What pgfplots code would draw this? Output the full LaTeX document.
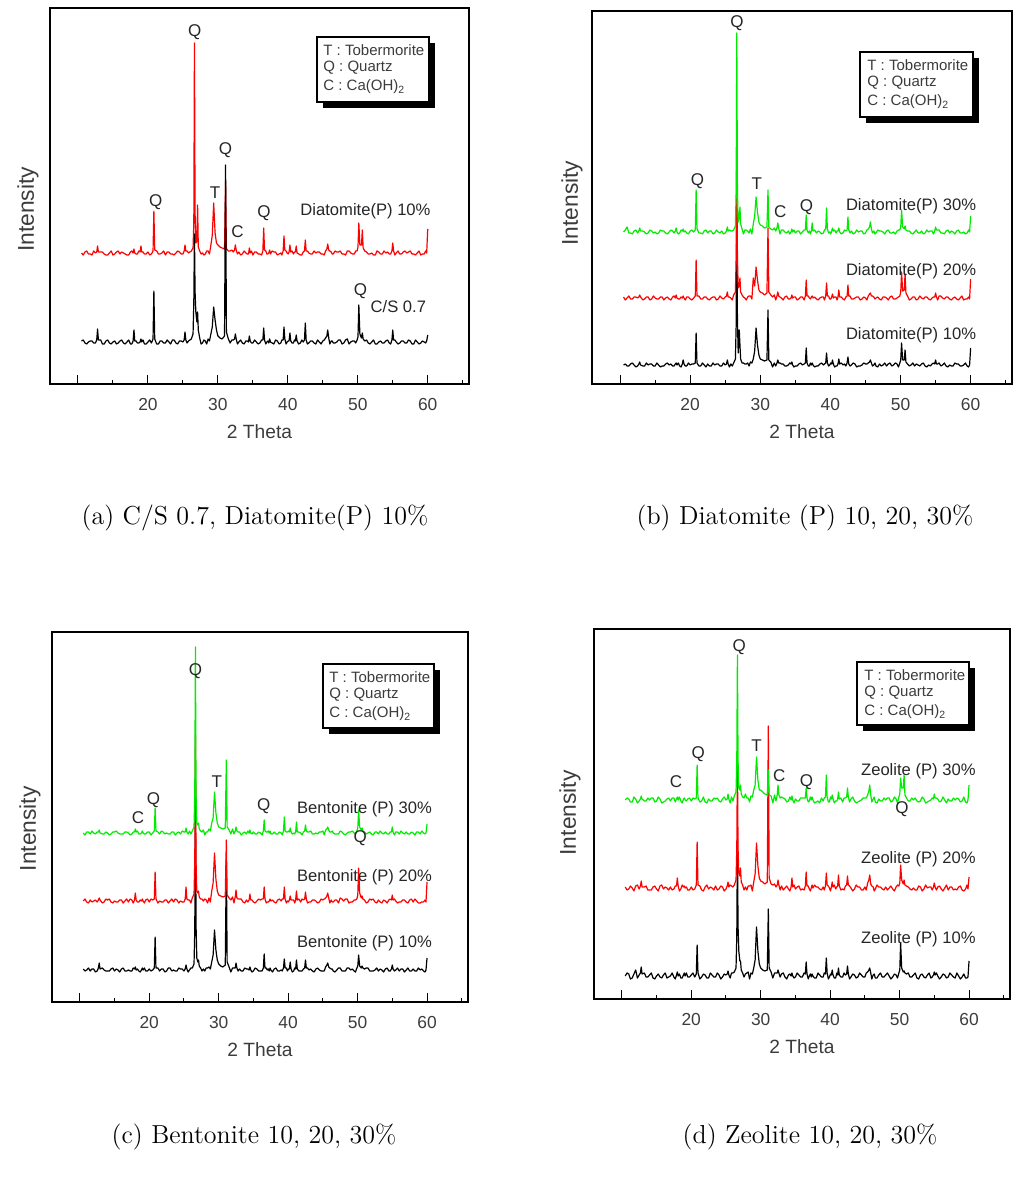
\documentclass[border=0pt]{standalone}
\usepackage{fontspec}
\usepackage{pgfplots}
\usepackage{pgfplotstable}
\pgfplotsset{compat=1.18}
\newfontfamily\arial{Liberation Sans}
\definecolor{xgreen}{RGB}{0,235,0}
\definecolor{xred}{RGB}{255,0,0}
\definecolor{axgray}{RGB}{60,60,60}

% relative intensities (px above each trace's baseline)
\pgfplotstableread{
x A1 A2 B1 B2 B3 C1 C2 C3 D1 D2 D3
10.5 1 0 0 1 0 1 0 0 0 1 0
10.75 2 -2 1 -2 2 -1 2 -2 3 -2 2
11.0 -1 1 -1 0 5 0 -1 1 2 -1 1
11.25 -2 2 -1 2 -1 2 -2 1 -3 2 -2
11.5 0 -1 1 -1 -1 -1 1 -1 -2 0 -2
11.75 1 -1 2 -1 -2 1 -1 2 2 -3 3
12.0 1 -2 0 1 1 1 0 0 6 2 1
12.25 -1 2 -2 1 2 -2 1 -1 -2 3 -3
12.5 -1 0 -1 0 -1 -1 -1 1 1 -1 -1
12.68 2 1 1 1 1 2 1 1 3 2 1
12.8 13 7 3 3 4 7 3 3 9 7 4
12.92 2 1 0 1 1 1 1 0 2 1 1
13.25 2 1 -1 -2 1 2 -2 -1 3 1 -1
13.5 -2 1 -1 -1 0 0 -1 -1 -1 2 -1
13.75 -2 -1 2 1 -2 -1 2 1 -1 -2 2
14.0 1 -2 0 1 -1 -1 1 0 1 -2 0
14.25 2 -2 1 -2 2 -1 2 -2 3 -2 2
14.5 -1 0 1 -1 1 1 -1 -1 -2 1 2
14.75 -2 2 -1 2 -1 2 -2 1 -3 2 -2
15.0 0 -2 -1 0 0 -1 0 1 0 -1 -1
15.25 1 -1 2 -1 -2 1 -1 2 2 -3 3
15.5 -2 1 0 -1 -1 0 -1 0 -1 2 1
15.75 -1 2 -2 1 2 -2 1 -1 -2 3 -3
16.0 1 -1 -1 1 1 1 1 -1 1 -1 -2
16.25 2 1 -1 -2 1 2 -2 -1 3 1 -1
16.5 -1 0 1 0 -1 -1 0 1 -2 0 1
16.75 -2 -1 2 1 -2 -1 2 1 -1 -2 2
17.0 0 -2 0 -1 0 0 -1 0 0 1 -1
17.25 2 -2 1 -2 2 -1 2 -2 3 -2 2
17.5 -2 1 -1 1 1 -1 1 -1 -1 -1 2
17.7 -2 2 -1 2 -1 2 -2 1 -3 2 -2
17.88 1 0 1 0 1 1 1 1 1 2 1
18.0 12 4 2 3 4 3 8 4 4 10 3
18.12 1 0 0 0 0 0 1 1 0 2 0
18.3 1 -1 2 -1 -2 1 -1 2 2 -3 3
18.5 -1 -1 -1 -1 -1 -1 -1 -1 -2 -1 -1
18.7 -1 2 -2 1 2 -2 1 -1 -2 3 -3
18.88 0 1 1 0 1 0 0 0 1 1 1
19.0 3 7 5 2 3 2 2 2 3 2 2
19.12 0 1 1 0 0 0 0 0 0 0 0
19.3 2 1 -1 -2 1 2 -2 -1 3 1 -1
19.5 -2 -1 -1 1 -1 -1 1 -1 -1 -2 1
19.75 -2 -1 2 1 -2 -1 2 1 -1 -2 2
20.0 0 1 0 -1 1 1 -1 1 1 1 -1
20.25 2 -2 1 -2 2 -1 2 -2 3 -2 2
20.5 -1 -1 1 0 0 0 1 0 -1 -1 1
20.73 3 2 2 2 2 2 2 2 2 3 2
20.85 51 42 32 38 42 33 29 25 31 46 35
20.97 3 3 2 2 3 2 2 2 3 3 2
21.25 -2 2 -1 2 -1 2 -2 1 -3 2 -2
21.5 -2 -1 -1 -1 -1 -1 0 -1 -1 -2 -1
21.75 1 -1 2 -1 -2 1 -1 2 2 -3 3
22.0 1 0 0 1 1 1 -1 1 1 1 -2
22.25 -1 2 -2 1 2 -2 1 -1 -2 3 -3
22.5 -1 -2 1 -1 -1 -1 1 0 -2 -1 1
22.75 2 1 -1 -2 1 2 -2 -1 3 1 -1
23.0 0 1 -1 0 1 2 0 -1 1 0 -1
23.25 -2 -1 2 1 -2 -1 2 1 -1 -2 2
23.5 2 -1 0 1 -1 0 -1 1 -1 2 1
23.75 2 -2 1 -2 2 -1 2 -2 3 -2 2
24.0 -1 0 1 -1 0 -1 1 0 1 -1 -1
24.25 -2 2 -1 2 -1 2 -2 1 -3 2 -2
24.5 1 1 -1 0 1 1 0 -1 -1 1 1
24.75 1 -1 2 -1 -2 1 -1 2 2 -3 3
25.0 0 -1 0 1 -1 -1 -1 1 1 -1 0
25.18 2 2 1 2 1 1 2 1 2 2 1
25.3 10 8 5 6 5 5 14 5 5 6 6
25.42 2 2 1 1 1 1 2 1 1 1 1
25.6 -1 2 -2 1 2 -2 1 -1 -2 3 -3
25.8 1 0 1 0 1 0 1 2 3 2 3
26.0 2 1 -1 -2 1 2 -2 -1 3 1 -1
26.2 3 2 2 3 2 2 3 2 4 3 4
26.45 8 5 6 6 6 6 7 6 8 8 8
26.56 40 30 40 40 40 40 40 40 40 40 40
26.65 108 210 160 168 199 183 166 186 137 128 145
26.74 50 40 45 40 40 45 40 40 50 40 40
26.85 30 10 12 10 10 12 10 10 25 15 12
27.0 20 12 35 12 14 8 8 8 15 12 10
27.1 30 48 20 20 25 10 10 10 15 20 15
27.2 12 6 6 6 8 4 4 4 6 6 6
27.4 4 2 2 3 3 2 2 2 3 3 3
27.6 -2 -1 2 1 -2 -1 2 1 -1 -2 2
27.8 -1 0 1 0 2 1 0 3 2 1 6
28.0 2 -2 1 -2 2 -1 2 -2 3 -2 2
28.2 1 -1 2 1 1 2 1 1 4 2 2
28.4 -2 2 -1 2 -1 2 -2 1 -3 2 -2
28.6 3 2 3 2 3 3 3 4 3 3 4
28.8 1 -1 2 -1 -2 1 -1 2 2 -3 3
29.0 8 8 6 20 8 8 10 10 8 6 10
29.2 15 18 14 12 16 15 18 15 16 14 15
29.4 35 50 37 31 35 40 48 41 49 45 43
29.6 22 20 20 18 20 20 22 20 25 22 20
29.8 12 10 10 8 10 10 10 10 12 10 10
30.0 6 8 6 6 7 6 6 6 8 7 10
30.3 4 6 5 5 6 4 5 5 6 6 8
30.6 3 5 4 3 4 3 4 4 5 4 6
30.95 6 4 5 5 5 5 5 5 6 6 5
31.1 177 72 55 70 42 110 61 73 67 162 30
31.22 10 4 5 6 5 8 6 6 8 10 5
31.5 3 2 3 3 3 3 3 3 4 4 4
31.75 -1 2 -2 1 2 -2 1 -1 -2 3 -3
32.0 2 3 2 3 4 2 4 4 3 4 5
32.2 2 1 -1 -2 1 2 -2 -1 3 1 -1
32.38 3 3 2 2 4 2 4 2 3 3 5
32.5 8 8 5 6 9 7 11 6 6 8 15
32.62 3 3 2 2 4 2 3 2 3 3 5
32.8 -2 -1 2 1 -2 -1 2 1 -1 -2 2
33.0 0 1 1 0 2 1 2 1 2 2 3
33.25 2 -2 1 -2 2 -1 2 -2 3 -2 2
33.5 -1 -1 -1 1 0 -1 -1 0 -1 0 1
33.75 -2 2 -1 2 -1 2 -2 1 -3 2 -2
34.0 1 0 0 -1 1 1 1 -1 1 -1 -1
34.2 1 -1 2 -1 -2 1 -1 2 2 -3 3
34.38 0 -1 1 0 0 0 1 0 0 1 0
34.5 6 5 3 3 3 3 7 3 3 10 4
34.62 1 0 0 0 0 0 1 0 0 1 0
34.8 -1 2 -2 1 2 -2 1 -1 -2 3 -3
35.0 -1 -2 -1 1 -1 -1 -1 1 -1 -1 1
35.25 2 1 -1 -2 1 2 -2 -1 3 1 -1
35.5 0 1 1 -1 1 1 0 -1 1 2 -1
35.75 -2 -1 2 1 -2 -1 2 1 -1 -2 2
36.0 -1 -1 0 1 0 -1 1 0 -1 -1 2
36.25 2 -2 1 -2 2 -1 2 -2 3 -2 2
36.43 2 2 2 2 2 2 2 2 2 2 2
36.55 14 25 17 18 17 16 14 13 14 16 12
36.67 2 3 2 2 2 2 2 2 2 2 2
36.85 -2 2 -1 2 -1 2 -2 1 -3 2 -2
37.0 0 -1 -1 0 1 0 -1 1 0 -1 -1
37.15 1 -1 2 -1 -2 1 -1 2 2 -3 3
37.28 -1 0 0 1 1 -1 0 0 -1 0 0
37.4 3 3 2 2 9 2 2 2 2 3 3
37.52 0 -1 0 0 1 0 0 -1 0 0 0
37.75 -1 2 -2 1 2 -2 1 -1 -2 3 -3
38.0 -2 1 -1 -1 -1 1 -1 1 -2 1 -2
38.25 2 1 -1 -2 1 2 -2 -1 3 1 -1
38.5 1 -2 1 0 0 -1 1 -1 1 -1 -3
38.75 -2 -1 2 1 -2 -1 2 1 -1 -2 2
39.0 -1 0 0 1 -1 0 0 0 -1 1 -1
39.15 2 -2 1 -2 2 -1 2 -2 3 -2 2
39.33 2 2 2 2 3 2 2 2 2 2 3
39.45 15 17 12 15 24 11 14 16 18 15 25
39.57 3 3 2 2 3 2 2 2 3 3 3
39.75 -2 2 -1 2 -1 2 -2 1 -3 2 -2
39.9 0 0 0 -1 0 -1 0 1 -1 0 -2
40.05 1 -1 2 -1 -2 1 -1 2 2 -3 3
40.18 1 1 1 1 1 1 1 1 1 1 1
40.3 9 8 5 4 4 8 5 5 6 6 5
40.42 1 1 1 0 1 1 1 1 1 1 1
40.6 -1 2 -2 1 2 -2 1 -1 -2 3 -3
40.8 -1 -1 -1 1 -1 -1 1 0 -2 -1 -1
40.95 2 1 -1 -2 1 2 -2 -1 3 1 -1
41.08 1 1 1 1 1 1 1 1 1 2 1
41.2 7 7 6 8 4 10 10 11 8 13 8
41.32 1 0 1 1 0 1 1 1 1 2 1
41.55 -2 -1 2 1 -2 -1 2 1 -1 -2 2
41.8 -1 -2 0 -1 -1 -1 -1 0 -1 -1 -2
42.0 2 -2 1 -2 2 -1 2 -2 3 -2 2
42.2 0 1 -1 1 1 1 1 1 1 2 2
42.38 2 2 2 2 2 2 2 2 2 3 3
42.5 19 13 8 13 15 10 9 8 10 12 12
42.62 2 2 1 2 2 2 2 2 2 3 3
42.8 -2 2 -1 2 -1 2 -2 1 -3 2 -2
43.0 -1 0 0 -1 1 0 -1 1 -1 0 1
43.25 1 -1 2 -1 -2 1 -1 2 2 -3 3
43.5 1 -1 1 0 -1 -1 1 -1 1 -1 -1
43.75 -1 2 -2 1 2 -2 1 -1 -2 3 -3
44.0 -2 0 -1 1 0 1 0 0 -1 1 -2
44.25 2 1 -1 -2 1 2 -2 -1 3 1 -1
44.5 0 1 0 -1 1 0 -1 1 1 -2 0
44.75 -2 -1 2 1 -2 -1 2 1 -1 -2 2
45.0 1 -1 1 0 -1 -1 1 2 -1 1 2
45.2 2 -2 1 -2 2 -1 2 -2 3 -2 2
45.4 4 2 2 2 3 3 3 3 4 5 5
45.58 6 4 3 4 5 5 5 4 6 8 9
45.7 12 9 5 5 10 7 8 6 8 13 15
45.85 4 3 2 2 3 3 3 3 3 4 5
46.0 -2 2 -1 2 -1 2 -2 1 -3 2 -2
46.2 1 1 0 1 1 1 1 1 1 1 1
46.35 1 -1 2 -1 -2 1 -1 2 2 -3 3
46.5 -1 -1 -1 0 -1 -1 -1 0 -2 -1 -2
46.75 -1 2 -2 1 2 -2 1 -1 -2 3 -3
47.0 0 1 1 -1 1 0 1 -1 1 1 1
47.25 2 1 -1 -2 1 2 -2 -1 3 1 -1
47.5 2 2 0 1 0 2 3 2 -1 -1 -1
47.75 -2 -1 2 1 -2 -1 2 1 -1 -2 2
48.0 -1 -1 -1 0 1 -1 0 -1 1 1 0
48.25 2 -2 1 -2 2 -1 2 -2 3 -2 2
48.5 3 2 2 1 -1 2 2 0 0 0 2
48.75 -2 2 -1 2 -1 2 -2 1 -3 2 -2
49.0 0 0 0 -1 0 0 -1 1 -1 -1 -1
49.25 1 -1 2 -1 -2 1 -1 2 2 -3 3
49.5 1 -1 1 0 1 -1 1 0 1 1 1
49.7 -1 2 -2 1 2 -2 1 -1 -2 3 -3
49.9 2 2 2 2 2 2 2 2 3 2 3
50.03 5 6 5 6 5 4 6 5 6 5 6
50.15 37 30 22 26 22 15 33 23 33 23 22
50.3 8 8 5 7 5 4 8 6 8 8 12
50.53 4 8 5 8 3 2 3 3 4 4 12
50.65 9 23 15 24 6 4 5 5 5 8 25
50.77 3 5 3 5 2 2 2 2 3 3 5
51.0 1 2 1 2 1 1 1 1 2 2 2
51.25 2 1 -1 -2 1 2 -2 -1 3 1 -1
51.5 -1 -1 0 -1 -1 2 -1 0 -1 -1 -1
51.75 -2 -1 2 1 -2 -1 2 1 -1 -2 2
52.0 0 0 -1 1 0 -1 1 -1 1 0 0
52.25 2 -2 1 -2 2 -1 2 -2 3 -2 2
52.5 -2 -2 0 -1 -1 0 -1 1 -2 -2 -1
52.75 -2 2 -1 2 -1 2 -2 1 -3 2 -2
53.0 0 1 1 0 1 -1 1 -1 1 1 -1
53.25 1 -1 2 -1 -2 1 -1 2 2 -3 3
53.5 -1 -1 -1 1 -1 0 -2 0 -1 -1 1
53.75 -1 2 -2 1 2 -2 1 -1 -2 3 -3
54.0 1 0 0 -1 0 1 0 1 1 0 -2
54.25 2 1 -1 -2 1 2 -2 -1 3 1 -1
54.5 -1 -1 1 0 1 -1 1 -1 -2 1 0
54.7 -2 -1 2 1 -2 -1 2 1 -1 -2 2
54.88 2 2 1 1 1 1 1 1 1 1 1
55.0 12 10 5 5 5 5 6 6 4 5 6
55.12 2 2 1 1 2 1 1 1 1 1 2
55.3 2 -2 1 -2 2 -1 2 -2 3 -2 2
55.5 0 0 2 2 2 0 0 1 0 1 1
55.75 -2 2 -1 2 -1 2 -2 1 -3 2 -2
56.0 -1 -1 0 0 -1 -1 -1 -1 -1 -1 -1
56.25 1 -1 2 -1 -2 1 -1 2 2 -3 3
56.5 1 1 -1 1 1 1 1 0 1 0 0
56.75 -1 2 -2 1 2 -2 1 -1 -2 3 -3
57.0 -1 0 0 -1 -1 0 -1 1 -1 -2 1
57.25 2 1 -1 -2 1 2 -2 -1 3 1 -1
57.5 1 2 -1 0 0 -1 1 -1 1 1 -1
57.75 -2 -1 2 1 -2 -1 2 1 -1 -2 2
58.0 -2 -1 1 -1 1 1 -1 0 -2 -1 0
58.25 2 -2 1 -2 2 -1 2 -2 3 -2 2
58.5 0 0 -1 0 -1 -1 0 1 0 1 1
58.75 -2 2 -1 2 -1 2 -2 1 -3 2 -2
59.0 -1 -2 0 -2 0 0 -2 -1 -1 -2 -1
59.25 1 -1 2 -1 -2 1 -1 2 2 -3 3
59.5 0 -1 -1 -1 -1 -1 -1 0 -2 -1 -2
59.7 -1 2 -2 1 2 -2 1 -1 -2 3 -3
59.85 1 0 0 -1 0 0 -1 0 -1 -1 0
60.0 7 24 17 19 16 12 19 9 15 11 15
}\xrd

\pgfplotsset{
  xrdaxis/.style={
    scale only axis, anchor=south west,
    xmin=6, xmax=65.9, ymin=0,
    axis line style={line width=0.6pt},
    xtick={10,20,30,40,50,60}, xticklabels={,20,30,40,50,60},
    minor xtick={15,25,35,45,55,65},
    xtick pos=left, ytick=\empty,
    tick align=inside,
    major tick length=4.5pt, minor tick length=2pt,
    every tick/.style={black, line width=0.5pt},
    xticklabel style={font=\arial\fontsize{8.7}{10}\selectfont, text=axgray, yshift=-3.5pt},
    xlabel={2 Theta},
    xlabel style={font=\arial\fontsize{9.6}{11}\selectfont, text=axgray,
      at={(axis description cs:0.5,0)}, anchor=center, yshift=-24pt},
    ylabel={Intensity},
    clip=false,
    every axis plot/.append style={line width=0.6pt, mark=none, line join=round},
  },
  ylab/.style n args={2}{ylabel style={font=\arial\fontsize{11.4}{13}\selectfont, text=axgray,
      at={(axis description cs:#2,#1)}, anchor=center}},
}
\tikzset{
  pk/.style={font=\arial\fontsize{8.5}{10}\selectfont, inner sep=0pt, text=black!85},
  sl/.style={font=\arial\fontsize{8.3}{10}\selectfont, inner sep=0pt, text=black!85},
  lg/.style={font=\arial\fontsize{7.5}{9}\selectfont, inner sep=0pt, anchor=west, text=axgray},
}

\newcommand\legbox[5]{%
  \fill (#1+6,#2+6) rectangle (#3+6,#4+6);
  \draw[fill=white,line width=0.6pt] (#1,#2) rectangle (#3,#4);
  \node[lg] at (#5,#2+13) {T : Tobermorite};
  \node[lg] at (#5,#2+31) {Q : Quartz};
  \node[lg] at (#5,#2+50) {C : Ca(OH)\textsubscript{2}};
}

\begin{document}
\begin{tikzpicture}
\useasboundingbox (0,0) rectangle (514.5pt,588.5pt);

% (a)
\begin{axis}[xrdaxis, at={(25pt,396.5pt)}, width=209.5pt, height=188pt, ymax=376, ylab={0.464}{-0.0525}]
\addplot[xred] table[x=x, y expr=\thisrow{A2}+131]{\xrd};
\addplot[black] table[x=x, y expr=\thisrow{A1}+42]{\xrd};
\node[pk] at (axis cs:26.7,352) {Q};
\node[pk] at (axis cs:31.1,234) {Q};
\node[pk] at (axis cs:29.6,191) {T};
\node[pk] at (axis cs:21.1,182) {Q};
\node[pk] at (axis cs:36.6,171) {Q};
\node[pk] at (axis cs:32.8,152) {C};
\node[pk] at (axis cs:50.4,93) {Q};
\node[sl] at (axis cs:51.1,173) {Diatomite(P) 10\%};
\node[sl] at (axis cs:55.8,77) {C/S 0.7};
\end{axis}

% (b)
\begin{axis}[xrdaxis, at={(296pt,396.5pt)}, width=210pt, height=186.5pt, ymax=373, ylab={0.485}{-0.0476}]
\addplot[black] table[x=x, y expr=\thisrow{B1}+19]{\xrd};
\addplot[xred] table[x=x, y expr=\thisrow{B2}+86]{\xrd};
\addplot[xgreen] table[x=x, y expr=\thisrow{B3}+152]{\xrd};
\node[pk] at (axis cs:26.67,361) {Q};
\node[pk] at (axis cs:21.05,203) {Q};
\node[pk] at (axis cs:29.5,200) {T};
\node[pk] at (axis cs:32.86,172) {C};
\node[pk] at (axis cs:36.6,177) {Q};
\node[sl] at (axis cs:51.5,178) {Diatomite(P) 30\%};
\node[sl] at (axis cs:51.5,113) {Diatomite(P) 20\%};
\node[sl] at (axis cs:51.5,49) {Diatomite(P) 10\%};
\end{axis}

% (c)
\begin{axis}[xrdaxis, at={(26pt,87.5pt)}, width=208pt, height=185pt, ymax=370, ylab={0.468}{-0.0529}]
\addplot[black] table[x=x, y expr=\thisrow{C1}+32]{\xrd};
\addplot[xred] table[x=x, y expr=\thisrow{C2}+101]{\xrd};
\addplot[xgreen] table[x=x, y expr=\thisrow{C3}+169]{\xrd};
\node[pk] at (axis cs:26.66,331) {Q};
\node[pk] at (axis cs:29.74,220) {T};
\node[pk] at (axis cs:20.6,202) {Q};
\node[pk] at (axis cs:18.4,184) {C};
\node[pk] at (axis cs:36.5,196) {Q};
\node[pk] at (axis cs:50.4,164) {Q};
\node[sl] at (axis cs:51.0,193) {Bentonite (P) 30\%};
\node[sl] at (axis cs:51.0,125) {Bentonite (P) 20\%};
\node[sl] at (axis cs:51.0,59) {Bentonite (P) 10\%};
\end{axis}

% (d)
\begin{axis}[xrdaxis, at={(297pt,89pt)}, width=208pt, height=185pt, ymax=370, ylab={0.503}{-0.0577}]
\addplot[black] table[x=x, y expr=\thisrow{D1}+23]{\xrd};
\addplot[xred] table[x=x, y expr=\thisrow{D2}+111]{\xrd};
\addplot[xgreen] table[x=x, y expr=\thisrow{D3}+199]{\xrd};
\node[pk] at (axis cs:26.9,352) {Q};
\node[pk] at (axis cs:21.0,245) {Q};
\node[pk] at (axis cs:29.4,253) {T};
\node[pk] at (axis cs:17.8,217) {C};
\node[pk] at (axis cs:32.66,223) {C};
\node[pk] at (axis cs:36.6,217) {Q};
\node[pk] at (axis cs:50.36,190) {Q};
\node[sl] at (axis cs:52.7,228) {Zeolite (P) 30\%};
\node[sl] at (axis cs:52.7,140) {Zeolite (P) 20\%};
\node[sl] at (axis cs:52.7,60) {Zeolite (P) 10\%};
\end{axis}

\begin{scope}[x=0.5pt, y=-0.5pt, shift={(0,-1177)}]
\legbox{317}{37}{429}{102}{323}
\legbox{860}{52}{973}{117}{867}
\legbox{323}{664}{434}{728}{329}
\legbox{857}{662}{969}{725}{864}
\node[font=\fontsize{13}{15}\selectfont] at (255,518) {(a) C/S 0.7, Diatomite(P) 10\%};
\node[font=\fontsize{13}{15}\selectfont] at (805,518) {(b) Diatomite (P) 10, 20, 30\%};
\node[font=\fontsize{13}{15}\selectfont] at (254,1137) {(c) Bentonite 10, 20, 30\%};
\node[font=\fontsize{13}{15}\selectfont] at (810,1137) {(d) Zeolite 10, 20, 30\%};
\end{scope}
\end{tikzpicture}
\end{document}
